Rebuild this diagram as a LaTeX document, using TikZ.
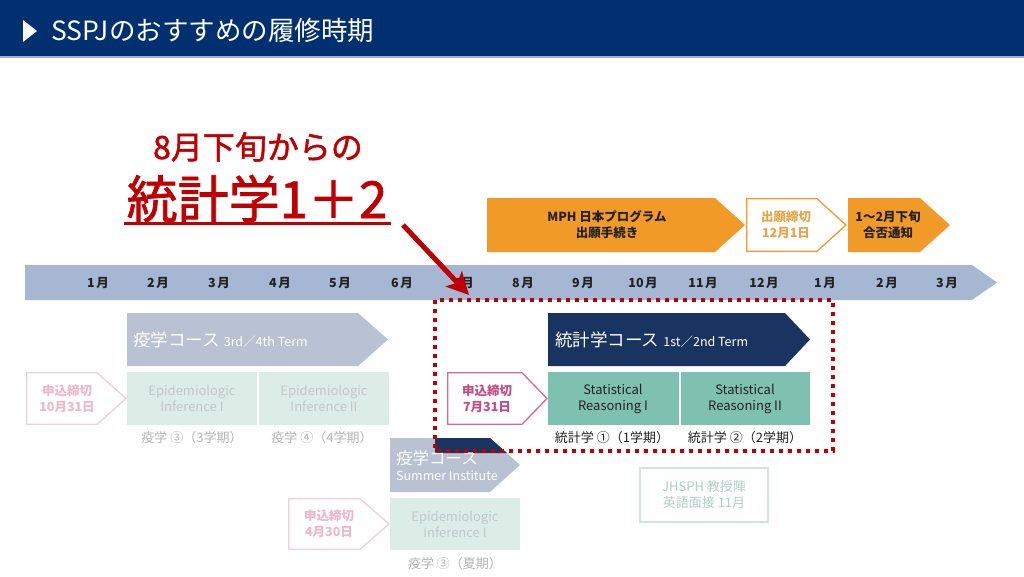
\documentclass[tikz,border=0pt]{standalone}
\usepackage{fontspec}
\setmainfont{Noto Sans CJK JP}
\newfontfamily\redfont[FakeBold=1.5]{Noto Sans CJK JP}
\usetikzlibrary{arrows.meta}
\definecolor{hdr}{HTML}{00306F}
\definecolor{hdrline}{HTML}{9FB2D0}
\definecolor{tl}{HTML}{A5B7D2}
\definecolor{org}{HTML}{F29A27}
\definecolor{orgt}{HTML}{E9A448}
\definecolor{navy}{HTML}{1A3461}
\definecolor{greyb}{HTML}{B8C2D3}
\definecolor{teal}{HTML}{7FC1B1}
\definecolor{mint}{HTML}{DCEDE8}
\definecolor{myred}{HTML}{C00000}
\definecolor{pinkb}{HTML}{D06A96}
\definecolor{pinkt}{HTML}{C54B80}
\definecolor{fpinkb}{HTML}{F3CDD8}
\definecolor{fpinkt}{HTML}{EDB8C6}
\definecolor{fgreyt}{HTML}{C2C6CA}
\definecolor{labg}{HTML}{B3B3B3}
\definecolor{labd}{HTML}{222222}
\definecolor{mintb}{HTML}{CFE5DF}
\definecolor{mintt}{HTML}{ADCFC6}
\tikzset{
  month/.style={font=\fontsize{12.5}{13}\selectfont\bfseries, text=labd, inner sep=0},
  twoline/.style={align=center, inner sep=0, font=\fontsize{13}{16}\selectfont},
  boldtwo/.style={align=center, inner sep=0, font=\fontsize{12.5}{16}\selectfont\bfseries},
  sublabel/.style={inner sep=0, font=\fontsize{13}{14}\selectfont},
}
\begin{document}
\begin{tikzpicture}[x=1pt,y=-1pt]
\useasboundingbox (0,0) rectangle (1024,576);
% header
\fill[hdr] (0,0) rectangle (1024,56);
\fill[hdrline] (0,56) rectangle (1024,58);
\fill[white] (23,20) -- (37,31) -- (23,42) -- cycle;
\node[anchor=west, text=white, inner sep=0, font=\fontsize{26.5}{26.5}\selectfont] (title) at (51,30) {SSPJのおすすめの履修時期};

% orange chevrons
\fill[org] (487,198) -- (715,198) -- (745,225) -- (715,252) -- (487,252) -- cycle;
\draw[org, line width=1.3, fill=white] (746.7,198.7) -- (817,198.7) -- (846,225) -- (817,251.3) -- (746.7,251.3) -- cycle;
\fill[org] (848,198) -- (920,198) -- (950,225) -- (920,252) -- (848,252) -- cycle;
\node[boldtwo, text=labd] (mph) at (607,225) {MPH 日本プログラム\\出願手続き};
\node[boldtwo, text=orgt] (dl12) at (786,225) {出願締切\\12月1日};
\node[boldtwo, text=labd] (pass) at (888,225) {1〜2月下旬\\合否通知};

% timeline
\fill[tl] (25,265) -- (972,265) -- (997,282.5) -- (972,300) -- (25,300) -- cycle;
\foreach \n/\x/\t in {m1/98/1, m2/158/2, m3/219/3, m4/280/4, m5/340/5, m6/402/6, m7/463/7, m8/523/8, m9/583/9, m10/643/10, m11/703/11, m12/764/12, n1/825/1, n2/887/2, n3/947/3}
  \node[month] (\n) at (\x,283) {\t\hspace{1.5pt}月};

% epidemiology course
\fill[greyb] (127,313) -- (358,313) -- (388,339.5) -- (358,366) -- (127,366) -- cycle;
\node[anchor=west, inner sep=0, text=white] (epi) at (133,340) {\fontsize{17.5}{17}\selectfont 疫学コース\hspace{4pt}\fontsize{12.5}{13}\selectfont 3rd／4th Term};
\fill[mint] (127,372) rectangle (257,425);
\fill[mint] (259,372) rectangle (389,425);
\node[twoline, text=fgreyt] (ei1) at (192,398.5) {Epidemiologic\\Inference I};
\node[twoline, text=fgreyt] (ei2) at (324,398.5) {Epidemiologic\\Inference II};
\node[sublabel, text=labg] (e3) at (192,438) {疫学 ③（3学期）};
\node[sublabel, text=labg] (e4) at (322,438) {疫学 ④（4学期）};
\draw[fpinkb, line width=1.3] (26.7,372.7) -- (97,372.7) -- (126,398.5) -- (97,424.3) -- (26.7,424.3) -- cycle;
\node[boldtwo, text=fpinkt] (dl10) at (67,398.5) {申込締切\\10月31日};

% statistics course
\fill[navy] (548,313) -- (785,313) -- (810,339.5) -- (785,366) -- (548,366) -- cycle;
\node[anchor=west, inner sep=0, text=white] (stat) at (555,340) {\fontsize{17.5}{17}\selectfont 統計学コース\hspace{4pt}\fontsize{12.5}{13}\selectfont 1st／2nd Term};
\fill[teal] (548,372) rectangle (679,425);
\fill[teal] (681,372) rectangle (810,425);
\node[twoline, text=labd] (sr1) at (613,398.5) {Statistical\\Reasoning I};
\node[twoline, text=labd] (sr2) at (745,398.5) {Statistical\\Reasoning II};
\node[sublabel, text=labd] (s1) at (612,438) {統計学 ①（1学期）};
\node[sublabel, text=labd] (s2) at (745,438) {統計学 ②（2学期）};
\draw[pinkb, line width=1.3] (447.7,372.7) -- (522,372.7) -- (547,398.5) -- (522,424.3) -- (447.7,424.3) -- cycle;
\node[boldtwo, text=pinkt] (dl7) at (487,398.5) {申込締切\\7月31日};

% summer institute
\fill[greyb] (390,438) -- (490,438) -- (520,465) -- (490,492) -- (390,492) -- cycle;
\fill[navy] (435,438) -- (490,438) -- (507,453) -- (435,453) -- cycle;
\node[anchor=west, inner sep=0, text=white, font=\fontsize{16.5}{16}\selectfont] (sum1) at (396,458) {疫学コース};
\node[anchor=west, inner sep=0, text=white, font=\fontsize{12.5}{13}\selectfont] (sum2) at (396,476) {Summer Institute};
\fill[mint] (390,498) rectangle (520,550);
\node[twoline, text=fgreyt] (ei3) at (455,524) {Epidemiologic\\Inference I};
\node[sublabel, text=labg] (e5) at (455,564) {疫学 ③（夏期）};
\draw[fpinkb, line width=1.3] (288.7,498.7) -- (360,498.7) -- (389,524) -- (360,549.3) -- (288.7,549.3) -- cycle;
\node[boldtwo, text=fpinkt] (dl4) at (329,524) {申込締切\\4月30日};

% JHSPH
\draw[mintb, line width=1.5] (640,468) rectangle (768,522);
\node[twoline, text=mintt] (jh) at (704,495) {JHSPH 教授陣\\英語面接 11月};

% dotted highlight
\draw[myred, line width=4, dash pattern=on 4 off 5] (435,300) rectangle (833,451);

% headline
\node[anchor=base, inner sep=0, text=myred, font=\redfont\fontsize{32}{32}\selectfont] (sub) at (258,159) {8月下旬からの};
\node[anchor=base, inner sep=0, text=myred, font=\redfont\fontsize{51}{51}\selectfont] (big) at (257,218) {統計学1＋2};
\draw[myred, line width=3] (124,223.5) -- (391,223.5);
\coordinate (as) at (403,225);
\coordinate (ae) at (469,295);
\draw[myred, line width=5, -{Stealth[length=22pt,width=22pt,inset=5pt]}] (as) -- (ae);
\end{tikzpicture}
\end{document}
